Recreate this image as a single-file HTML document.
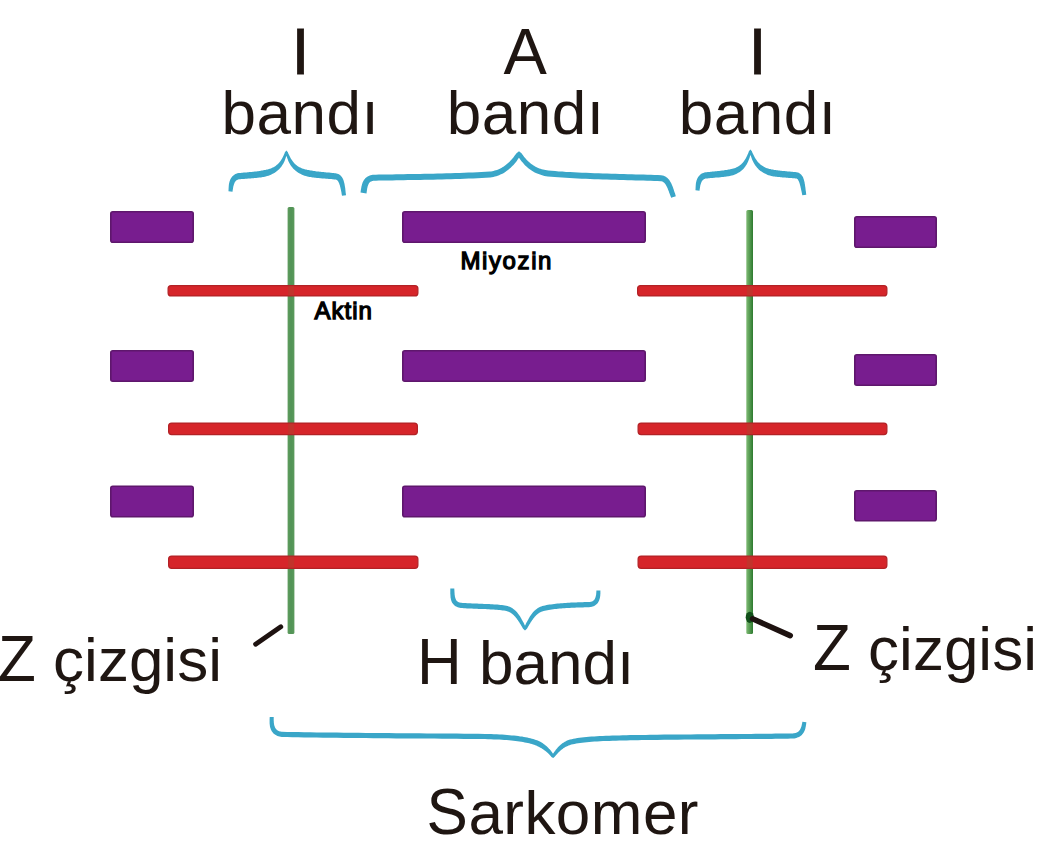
<!DOCTYPE html>
<html>
<head>
<meta charset="utf-8">
<style>
html,body{margin:0;padding:0;background:#fff;}
body{width:1039px;height:859px;overflow:hidden;}
svg{display:block;}
.t{font-family:"Liberation Sans",sans-serif;font-size:62px;fill:#1f1612;}
.b{font-family:"Liberation Sans",sans-serif;font-weight:normal;font-size:24px;fill:#000;stroke:#000;stroke-width:1.3px;}
</style>
</head>
<body>
<svg width="1039" height="859" viewBox="0 0 1039 859">
<rect x="0" y="0" width="1039" height="859" fill="#fff"/>

<!-- top labels -->
<text class="t" x="300.6" y="73.7" text-anchor="middle" style="font-size:65px;stroke:#1f1612;stroke-width:0.8px">I</text>
<text class="t" x="300.4" y="134.3" text-anchor="middle" letter-spacing="0.5">bandı</text>
<text class="t" x="525.1" y="73.7" text-anchor="middle" style="font-size:65px">A</text>
<text class="t" x="525.6" y="134.3" text-anchor="middle" letter-spacing="0.5">bandı</text>
<text class="t" x="757.5" y="73.7" text-anchor="middle" style="font-size:65px;stroke:#1f1612;stroke-width:0.8px">I</text>
<text class="t" x="757.6" y="134.3" text-anchor="middle" letter-spacing="0.5">bandı</text>

<!-- green Z lines -->
<defs>
<linearGradient id="gL" x1="0" x2="1" y1="0" y2="0"><stop offset="0" stop-color="#5f9c5e"/><stop offset="0.5" stop-color="#519356"/><stop offset="1" stop-color="#5b9a5c"/></linearGradient>
<linearGradient id="gR" x1="0" x2="1" y1="0" y2="0"><stop offset="0" stop-color="#80bb75"/><stop offset="0.45" stop-color="#5a9e55"/><stop offset="1" stop-color="#2d7a2f"/></linearGradient>
</defs>
<rect x="287.6" y="207" width="6.8" height="427" rx="1.5" fill="url(#gL)"/>
<rect x="746.3" y="210" width="6.7" height="424" rx="1.5" fill="url(#gR)"/>

<!-- purple myosin -->
<g fill="#781d8f" stroke="#5e176c" stroke-width="1.6">
<rect x="110.8" y="211.8" width="82.4" height="30.4" rx="2"/>
<rect x="402.8" y="211.8" width="242.4" height="30.4" rx="2"/>
<rect x="854.8" y="216.8" width="81.4" height="30.4" rx="2"/>
<rect x="110.8" y="350.8" width="82.4" height="30.4" rx="2"/>
<rect x="402.8" y="350.8" width="242.4" height="30.4" rx="2"/>
<rect x="854.8" y="354.8" width="81.4" height="30.4" rx="2"/>
<rect x="110.8" y="486.3" width="82.4" height="30.4" rx="2"/>
<rect x="402.8" y="486.3" width="242.4" height="30.4" rx="2"/>
<rect x="854.8" y="490.8" width="81.4" height="29.9" rx="2"/>
</g>

<!-- red actin -->
<g fill="#d6252a" stroke="#b22226" stroke-width="1.2" fill-opacity="1">
<rect x="168.1" y="285.6" width="249.8" height="10.3" rx="3"/>
<rect x="637.6" y="285.6" width="249.3" height="10.3" rx="3"/>
<rect x="168.6" y="423.1" width="248.8" height="11.5" rx="3"/>
<rect x="638.1" y="423.1" width="248.8" height="11.5" rx="3"/>
<rect x="168.6" y="556.1" width="249.3" height="12.2" rx="3"/>
<rect x="638.1" y="556.1" width="248.8" height="12.2" rx="3"/>
</g>

<!-- crossings -->
<g fill="#a5482c" fill-opacity="0.4">
<rect x="288.1" y="286" width="6" height="9.5"/>
<rect x="746.8" y="286" width="6" height="9.5"/>
<rect x="288.1" y="423.5" width="6" height="10.7"/>
<rect x="746.8" y="423.5" width="6" height="10.7"/>
<rect x="288.1" y="556.5" width="6" height="11.4"/>
<rect x="746.8" y="556.5" width="6" height="11.4"/>
</g>

<!-- small labels -->
<text class="b" x="314.6" y="318.9" letter-spacing="1.0">Aktin</text>
<text class="b" x="460.5" y="268.6" letter-spacing="1.6">Miyozin</text>

<!-- pointer lines -->
<line x1="280.8" y1="626.8" x2="255.6" y2="644.2" stroke="#1e1210" stroke-width="4.8" stroke-linecap="round"/>
<ellipse cx="749.8" cy="617.3" rx="4.1" ry="5.6" fill="#12501a"/>
<line x1="752.5" y1="618.8" x2="790.2" y2="635.6" stroke="#1e1210" stroke-width="5.6" stroke-linecap="round"/>

<!-- bottom labels -->
<text class="t" transform="translate(-2,681) scale(1,1.035)">Z</text>
<text class="t" x="53.12" y="681">çizgisi</text>
<text class="t" transform="translate(813,669.5) scale(1,1.035)">Z</text>
<text class="t" x="868.12" y="669.5">çizgisi</text>
<text class="t" transform="translate(417,684.4) scale(1,1.035)">H</text>
<text class="t" x="479" y="684.4">bandı</text>
<text class="t" transform="translate(426.6,834.1) scale(1,1.035)">S</text>
<text class="t" x="468.4" y="834.1" letter-spacing="0.45">arkomer</text>

<!-- braces -->
<g fill="#3aa6c8">
<path d="M232.5,191.7 L232.6,191.0 L232.7,190.3 L232.8,189.7 L232.9,189.0 L233.0,188.4 L233.1,187.8 L233.2,187.2 L233.3,186.6 L233.5,186.0 L233.6,185.4 L233.8,184.9 L233.9,184.4 L234.1,183.9 L234.3,183.4 L234.5,183.0 L234.7,182.5 L234.9,182.1 L235.2,181.8 L235.4,181.4 L235.7,181.1 L236.0,180.8 L236.3,180.6 L236.6,180.3 L236.9,180.1 L237.3,179.9 L237.6,179.7 L238.1,179.5 L238.5,179.4 L238.6,179.3 L239.3,179.3 L240.3,179.2 L241.3,179.1 L242.3,179.0 L243.3,178.9 L244.2,178.9 L245.2,178.8 L246.1,178.7 L247.1,178.7 L248.0,178.6 L248.9,178.5 L249.9,178.5 L250.8,178.4 L251.7,178.3 L252.6,178.3 L253.5,178.2 L254.4,178.1 L255.4,178.0 L256.3,177.9 L257.2,177.8 L258.1,177.7 L259.0,177.6 L260.0,177.5 L260.9,177.4 L261.9,177.2 L262.8,177.1 L263.8,176.9 L264.7,176.7 L265.7,176.5 L267.1,176.1 L268.5,175.7 L269.7,175.2 L271.0,174.7 L272.2,174.1 L273.3,173.5 L274.4,172.9 L275.4,172.2 L276.4,171.5 L277.3,170.8 L278.2,170.1 L279.1,169.3 L279.8,168.4 L280.6,167.6 L281.3,166.7 L281.9,165.8 L282.5,164.8 L283.1,163.9 L283.6,162.9 L284.1,161.9 L284.6,160.9 L285.0,159.8 L285.4,158.7 L285.8,157.6 L286.2,156.5 L286.5,155.4 L286.9,154.2 L287.2,153.0 L286.4,152.6 L285.7,153.0 L286.0,154.2 L286.3,155.4 L286.7,156.5 L287.1,157.7 L287.5,158.8 L287.9,159.8 L288.3,160.9 L288.8,161.9 L289.3,162.9 L289.9,163.9 L290.4,164.9 L291.0,165.8 L291.7,166.7 L292.4,167.6 L293.1,168.4 L293.9,169.3 L294.8,170.1 L295.6,170.8 L296.6,171.5 L297.6,172.2 L298.6,172.9 L299.7,173.5 L300.8,174.1 L302.0,174.7 L303.3,175.2 L304.5,175.7 L305.9,176.1 L307.3,176.5 L308.4,176.7 L309.5,176.9 L310.6,177.1 L311.6,177.3 L312.7,177.4 L313.8,177.6 L314.8,177.7 L315.8,177.8 L316.9,177.9 L317.9,178.0 L318.9,178.1 L320.0,178.2 L321.0,178.3 L322.0,178.4 L323.0,178.5 L323.9,178.5 L324.9,178.6 L325.9,178.7 L326.8,178.8 L327.8,178.8 L328.7,178.9 L329.6,179.0 L330.5,179.0 L331.4,179.1 L332.3,179.2 L333.1,179.3 L334.0,179.4 L334.8,179.5 L335.5,179.6 L335.7,179.6 L336.0,179.6 L336.2,179.7 L336.5,179.8 L336.7,179.9 L336.9,180.0 L337.2,180.2 L337.4,180.5 L337.7,180.8 L337.9,181.1 L338.2,181.5 L338.5,181.9 L338.7,182.4 L339.0,183.0 L339.2,183.6 L339.4,184.2 L339.7,184.9 L339.9,185.6 L340.1,186.4 L340.3,187.2 L340.5,188.0 L340.7,188.9 L340.9,189.8 L341.1,190.7 L341.3,191.7 L341.5,192.7 L341.6,193.7 L341.8,194.7 L342.0,195.8 L346.0,195.2 L345.9,194.1 L345.7,193.1 L345.6,192.0 L345.5,191.0 L345.4,190.0 L345.3,189.0 L345.2,188.1 L345.0,187.1 L344.9,186.2 L344.7,185.3 L344.6,184.5 L344.4,183.6 L344.2,182.8 L344.0,182.0 L343.8,181.2 L343.6,180.5 L343.3,179.7 L343.0,179.0 L342.6,178.3 L342.3,177.7 L341.8,177.0 L341.4,176.4 L340.8,175.8 L340.2,175.3 L339.6,174.8 L338.9,174.3 L338.2,174.0 L337.4,173.7 L336.5,173.4 L335.6,173.3 L334.7,173.2 L333.8,173.1 L332.9,173.0 L332.0,172.9 L331.1,172.8 L330.2,172.7 L329.2,172.6 L328.3,172.5 L327.4,172.4 L326.4,172.4 L325.4,172.3 L324.5,172.2 L323.5,172.1 L322.5,172.0 L321.6,171.9 L320.6,171.8 L319.6,171.7 L318.6,171.6 L317.6,171.5 L316.6,171.4 L315.6,171.2 L314.6,171.1 L313.6,170.9 L312.6,170.8 L311.6,170.6 L310.6,170.5 L309.6,170.3 L308.7,170.1 L307.5,169.9 L306.3,169.6 L305.2,169.4 L304.1,169.1 L303.1,168.7 L302.1,168.4 L301.2,168.0 L300.3,167.6 L299.4,167.2 L298.6,166.7 L297.8,166.2 L297.1,165.7 L296.3,165.1 L295.6,164.5 L295.0,163.9 L294.3,163.2 L293.7,162.5 L293.1,161.7 L292.5,161.0 L291.9,160.1 L291.3,159.3 L290.8,158.4 L290.3,157.5 L289.8,156.5 L289.3,155.5 L288.8,154.5 L288.3,153.4 L287.9,152.3 L286.4,150.4 L284.9,152.3 L284.5,153.4 L284.0,154.5 L283.6,155.5 L283.1,156.5 L282.6,157.5 L282.1,158.4 L281.6,159.3 L281.0,160.2 L280.5,161.0 L279.9,161.8 L279.3,162.5 L278.6,163.2 L278.0,163.9 L277.3,164.5 L276.6,165.1 L275.9,165.7 L275.2,166.2 L274.4,166.7 L273.6,167.2 L272.7,167.6 L271.8,168.0 L270.9,168.4 L269.9,168.7 L268.9,169.1 L267.8,169.4 L266.7,169.6 L265.5,169.9 L264.3,170.1 L263.4,170.3 L262.5,170.4 L261.7,170.6 L260.8,170.8 L259.9,170.9 L259.1,171.0 L258.2,171.2 L257.3,171.3 L256.4,171.4 L255.6,171.5 L254.7,171.6 L253.8,171.7 L252.9,171.8 L252.0,171.9 L251.2,172.0 L250.3,172.0 L249.3,172.1 L248.4,172.2 L247.5,172.3 L246.6,172.4 L245.6,172.4 L244.7,172.5 L243.7,172.6 L242.7,172.7 L241.8,172.8 L240.8,172.9 L239.7,173.0 L238.7,173.1 L237.4,173.3 L236.2,173.7 L235.4,174.1 L234.7,174.5 L234.0,175.0 L233.4,175.5 L232.8,176.0 L232.2,176.6 L231.7,177.2 L231.3,177.8 L230.9,178.4 L230.5,179.1 L230.2,179.7 L230.0,180.4 L229.7,181.1 L229.5,181.7 L229.3,182.4 L229.2,183.1 L229.0,183.8 L228.9,184.5 L228.8,185.2 L228.8,185.9 L228.7,186.5 L228.7,187.2 L228.6,187.9 L228.6,188.6 L228.6,189.3 L228.5,190.0 L228.5,190.7 L228.5,191.3 Z"/>
<path d="M366.5,193.4 L366.6,192.7 L366.7,192.0 L366.8,191.3 L366.9,190.6 L367.0,189.9 L367.1,189.2 L367.2,188.6 L367.3,187.9 L367.5,187.3 L367.6,186.7 L367.7,186.2 L367.9,185.7 L368.1,185.2 L368.3,184.7 L368.5,184.2 L368.7,183.8 L368.9,183.5 L369.1,183.1 L369.4,182.8 L369.6,182.5 L369.9,182.2 L370.2,182.0 L370.5,181.8 L370.9,181.6 L371.3,181.4 L371.8,181.2 L372.3,181.0 L372.8,180.9 L373.2,180.8 L376.0,180.7 L379.0,180.6 L382.1,180.6 L385.5,180.5 L388.9,180.4 L392.5,180.4 L396.2,180.3 L400.0,180.3 L403.8,180.2 L407.8,180.1 L411.9,180.1 L416.0,180.0 L420.3,179.9 L424.5,179.8 L428.9,179.7 L433.2,179.7 L437.6,179.6 L442.0,179.4 L446.5,179.3 L450.9,179.2 L455.4,179.1 L459.9,178.9 L464.3,178.8 L468.7,178.6 L473.1,178.4 L477.4,178.2 L481.8,178.0 L486.0,177.7 L490.2,177.5 L491.9,177.3 L493.4,177.0 L494.9,176.6 L496.3,176.2 L497.7,175.7 L499.1,175.2 L500.4,174.6 L501.7,174.0 L503.0,173.4 L504.2,172.7 L505.3,171.9 L506.5,171.1 L507.6,170.3 L508.6,169.5 L509.7,168.6 L510.7,167.7 L511.6,166.8 L512.6,165.8 L513.5,164.9 L514.3,163.9 L515.2,162.9 L516.0,161.9 L516.8,160.9 L517.5,159.8 L518.2,158.8 L518.9,157.8 L519.6,156.8 L520.3,155.7 L519.0,155.7 L517.7,155.7 L518.4,156.7 L519.0,157.7 L519.7,158.7 L520.4,159.7 L521.1,160.7 L521.9,161.7 L522.7,162.6 L523.5,163.6 L524.3,164.5 L525.2,165.4 L526.1,166.3 L527.0,167.1 L528.0,168.0 L529.0,168.8 L530.1,169.6 L531.2,170.3 L532.3,171.1 L533.5,171.7 L534.7,172.4 L535.9,173.0 L537.2,173.6 L538.6,174.1 L540.0,174.6 L541.4,175.1 L542.9,175.5 L544.4,175.9 L546.0,176.2 L547.7,176.5 L551.1,176.8 L554.6,177.1 L558.3,177.3 L562.0,177.6 L565.8,177.8 L569.7,178.1 L573.6,178.3 L577.7,178.5 L581.8,178.7 L585.9,178.8 L590.0,179.0 L594.2,179.2 L598.4,179.3 L602.7,179.5 L606.9,179.6 L611.1,179.7 L615.3,179.8 L619.5,180.0 L623.6,180.1 L627.7,180.2 L631.7,180.3 L635.7,180.4 L639.6,180.5 L643.4,180.6 L647.1,180.7 L650.7,180.8 L654.2,181.0 L657.6,181.1 L660.8,181.2 L661.1,181.2 L661.6,181.3 L662.0,181.4 L662.4,181.6 L662.8,181.8 L663.1,182.0 L663.5,182.2 L663.8,182.5 L664.2,182.8 L664.6,183.2 L664.9,183.6 L665.3,184.1 L665.6,184.6 L666.0,185.2 L666.3,185.8 L666.7,186.4 L667.0,187.1 L667.3,187.8 L667.7,188.6 L668.0,189.4 L668.3,190.2 L668.7,191.1 L669.0,192.0 L669.3,192.9 L669.7,193.8 L670.0,194.8 L670.4,195.8 L670.8,196.8 L671.1,197.8 L675.9,196.2 L675.5,195.2 L675.2,194.1 L674.9,193.1 L674.5,192.2 L674.2,191.2 L673.9,190.2 L673.6,189.3 L673.3,188.4 L673.0,187.5 L672.6,186.6 L672.3,185.7 L671.9,184.9 L671.6,184.0 L671.2,183.2 L670.8,182.5 L670.3,181.7 L669.9,181.0 L669.4,180.2 L668.9,179.6 L668.3,178.9 L667.7,178.3 L667.1,177.7 L666.4,177.2 L665.7,176.7 L664.9,176.3 L664.0,175.9 L663.2,175.6 L662.3,175.4 L661.2,175.2 L657.8,175.1 L654.4,175.0 L650.9,174.8 L647.3,174.7 L643.5,174.6 L639.7,174.5 L635.8,174.4 L631.9,174.3 L627.8,174.2 L623.8,174.1 L619.6,174.0 L615.5,173.8 L611.3,173.7 L607.1,173.6 L602.9,173.5 L598.7,173.3 L594.5,173.2 L590.3,173.0 L586.1,172.8 L582.0,172.7 L578.0,172.5 L574.0,172.3 L570.0,172.1 L566.1,171.9 L562.4,171.6 L558.7,171.4 L555.1,171.1 L551.6,170.8 L548.3,170.5 L547.0,170.3 L545.6,170.1 L544.2,169.8 L543.0,169.5 L541.7,169.2 L540.5,168.8 L539.3,168.4 L538.2,167.9 L537.1,167.4 L536.1,166.9 L535.1,166.4 L534.1,165.8 L533.1,165.2 L532.2,164.6 L531.3,163.9 L530.4,163.2 L529.6,162.5 L528.7,161.8 L527.9,161.0 L527.1,160.2 L526.4,159.4 L525.6,158.6 L524.9,157.7 L524.2,156.9 L523.5,156.0 L522.8,155.1 L522.2,154.2 L521.5,153.2 L519.0,151.3 L516.5,153.2 L515.8,154.2 L515.1,155.1 L514.4,156.1 L513.7,157.0 L513.0,157.9 L512.2,158.8 L511.4,159.7 L510.6,160.6 L509.8,161.4 L509.0,162.2 L508.1,163.1 L507.2,163.8 L506.3,164.6 L505.4,165.3 L504.4,166.0 L503.4,166.7 L502.4,167.3 L501.4,167.9 L500.3,168.5 L499.3,169.0 L498.2,169.5 L497.0,169.9 L495.9,170.3 L494.7,170.6 L493.5,170.9 L492.3,171.2 L491.0,171.4 L489.8,171.5 L485.7,171.8 L481.4,172.0 L477.2,172.2 L472.8,172.4 L468.5,172.6 L464.1,172.8 L459.6,172.9 L455.2,173.1 L450.8,173.2 L446.3,173.3 L441.9,173.4 L437.5,173.6 L433.1,173.7 L428.7,173.7 L424.4,173.8 L420.1,173.9 L415.9,174.0 L411.8,174.1 L407.7,174.1 L403.7,174.2 L399.9,174.3 L396.1,174.3 L392.4,174.4 L388.8,174.4 L385.3,174.5 L382.0,174.6 L378.8,174.6 L375.8,174.7 L372.8,174.8 L371.6,175.0 L370.6,175.2 L369.7,175.5 L368.9,175.9 L368.1,176.3 L367.3,176.7 L366.6,177.2 L365.9,177.7 L365.3,178.3 L364.8,178.9 L364.3,179.6 L363.8,180.3 L363.4,180.9 L363.1,181.6 L362.7,182.3 L362.5,183.1 L362.2,183.8 L362.0,184.5 L361.8,185.3 L361.6,186.0 L361.4,186.7 L361.3,187.5 L361.2,188.2 L361.0,188.9 L360.9,189.7 L360.8,190.4 L360.7,191.1 L360.6,191.9 L360.5,192.6 Z"/>
<path d="M699.5,190.7 L699.6,190.0 L699.7,189.3 L699.8,188.7 L699.9,188.0 L700.0,187.4 L700.1,186.8 L700.2,186.2 L700.3,185.6 L700.4,185.0 L700.6,184.4 L700.8,183.9 L700.9,183.4 L701.1,182.9 L701.3,182.4 L701.5,182.0 L701.7,181.6 L701.9,181.2 L702.2,180.8 L702.4,180.5 L702.7,180.2 L703.0,179.9 L703.2,179.7 L703.6,179.5 L703.9,179.3 L704.2,179.1 L704.6,178.9 L705.0,178.7 L705.4,178.6 L705.6,178.5 L706.4,178.5 L707.4,178.4 L708.3,178.3 L709.3,178.2 L710.2,178.1 L711.2,178.0 L712.1,177.9 L713.0,177.9 L713.9,177.8 L714.8,177.7 L715.6,177.6 L716.5,177.6 L717.4,177.5 L718.2,177.4 L719.1,177.4 L720.0,177.3 L720.8,177.2 L721.7,177.1 L722.6,177.0 L723.4,176.9 L724.3,176.8 L725.2,176.7 L726.1,176.6 L727.0,176.5 L727.9,176.3 L728.8,176.2 L729.8,176.0 L730.7,175.8 L731.8,175.6 L733.1,175.2 L734.3,174.7 L735.5,174.2 L736.7,173.7 L737.8,173.1 L738.8,172.5 L739.8,171.9 L740.7,171.2 L741.6,170.5 L742.5,169.8 L743.3,169.0 L744.0,168.2 L744.7,167.3 L745.3,166.5 L745.9,165.6 L746.5,164.7 L747.0,163.8 L747.5,162.8 L748.0,161.8 L748.4,160.8 L748.8,159.8 L749.2,158.8 L749.6,157.7 L749.9,156.6 L750.3,155.5 L750.6,154.4 L750.9,153.2 L751.2,152.0 L750.4,151.6 L749.7,152.0 L750.0,153.2 L750.3,154.4 L750.7,155.6 L751.1,156.7 L751.5,157.8 L751.9,158.9 L752.3,160.0 L752.8,161.0 L753.3,162.0 L753.8,163.0 L754.4,164.0 L755.0,165.0 L755.7,165.9 L756.4,166.8 L757.1,167.7 L757.9,168.5 L758.7,169.4 L759.6,170.2 L760.5,170.9 L761.5,171.6 L762.6,172.3 L763.7,173.0 L764.8,173.6 L766.0,174.1 L767.2,174.7 L768.5,175.2 L769.9,175.6 L771.3,176.0 L772.5,176.2 L773.6,176.4 L774.6,176.5 L775.6,176.7 L776.7,176.8 L777.7,176.9 L778.7,177.0 L779.7,177.1 L780.6,177.2 L781.6,177.3 L782.5,177.4 L783.5,177.5 L784.4,177.5 L785.3,177.6 L786.2,177.7 L787.0,177.7 L787.9,177.8 L788.7,177.9 L789.5,177.9 L790.3,178.0 L791.1,178.0 L791.9,178.1 L792.6,178.2 L793.3,178.2 L794.0,178.3 L794.7,178.3 L795.3,178.4 L795.9,178.5 L796.3,178.5 L796.3,178.5 L796.5,178.6 L796.7,178.6 L796.9,178.8 L797.2,178.9 L797.4,179.1 L797.6,179.3 L797.9,179.6 L798.1,180.0 L798.3,180.4 L798.6,180.8 L798.8,181.3 L799.1,181.9 L799.3,182.4 L799.5,183.1 L799.7,183.8 L799.9,184.5 L800.1,185.2 L800.3,186.0 L800.5,186.8 L800.7,187.7 L800.9,188.6 L801.1,189.5 L801.3,190.4 L801.5,191.3 L801.7,192.3 L801.9,193.3 L802.1,194.3 L802.3,195.3 L806.3,194.7 L806.1,193.6 L806.0,192.6 L805.9,191.6 L805.7,190.6 L805.6,189.7 L805.5,188.7 L805.4,187.8 L805.3,186.9 L805.1,186.0 L805.0,185.1 L804.9,184.2 L804.7,183.4 L804.6,182.6 L804.4,181.8 L804.2,181.0 L804.0,180.2 L803.8,179.5 L803.5,178.7 L803.3,178.0 L803.0,177.3 L802.6,176.6 L802.2,176.0 L801.8,175.4 L801.3,174.8 L800.7,174.2 L800.1,173.7 L799.4,173.2 L798.7,172.8 L797.7,172.5 L796.8,172.3 L796.1,172.2 L795.4,172.1 L794.7,172.1 L794.0,172.0 L793.2,171.9 L792.4,171.8 L791.7,171.7 L790.9,171.7 L790.1,171.6 L789.2,171.5 L788.4,171.5 L787.6,171.4 L786.7,171.3 L785.8,171.2 L784.9,171.1 L784.0,171.1 L783.1,171.0 L782.2,170.9 L781.3,170.8 L780.4,170.7 L779.4,170.6 L778.4,170.4 L777.5,170.3 L776.5,170.2 L775.5,170.0 L774.5,169.9 L773.6,169.7 L772.7,169.6 L771.5,169.4 L770.3,169.1 L769.2,168.9 L768.1,168.6 L767.1,168.2 L766.1,167.9 L765.2,167.5 L764.3,167.0 L763.5,166.6 L762.7,166.1 L761.9,165.6 L761.1,165.0 L760.4,164.4 L759.7,163.8 L759.0,163.1 L758.3,162.4 L757.7,161.7 L757.1,160.9 L756.5,160.1 L755.9,159.3 L755.4,158.4 L754.8,157.5 L754.3,156.5 L753.8,155.6 L753.3,154.5 L752.8,153.5 L752.3,152.4 L751.9,151.3 L750.4,149.4 L748.9,151.3 L748.5,152.4 L748.1,153.5 L747.6,154.6 L747.2,155.6 L746.7,156.5 L746.2,157.5 L745.7,158.4 L745.2,159.2 L744.7,160.1 L744.2,160.8 L743.7,161.6 L743.1,162.3 L742.5,163.0 L741.9,163.6 L741.3,164.2 L740.6,164.8 L740.0,165.3 L739.3,165.8 L738.5,166.3 L737.8,166.7 L737.0,167.1 L736.2,167.5 L735.3,167.9 L734.4,168.2 L733.4,168.5 L732.4,168.7 L731.3,169.0 L730.2,169.2 L729.4,169.4 L728.6,169.5 L727.7,169.7 L726.8,169.9 L726.0,170.0 L725.1,170.1 L724.3,170.3 L723.5,170.4 L722.7,170.5 L721.8,170.6 L721.0,170.7 L720.2,170.8 L719.3,170.9 L718.5,171.0 L717.7,171.1 L716.8,171.2 L715.9,171.2 L715.1,171.3 L714.2,171.4 L713.3,171.5 L712.4,171.6 L711.5,171.7 L710.6,171.8 L709.6,171.9 L708.7,172.0 L707.7,172.1 L706.7,172.2 L705.7,172.3 L704.4,172.5 L703.3,172.9 L702.5,173.2 L701.7,173.6 L701.1,174.1 L700.4,174.6 L699.8,175.1 L699.3,175.7 L698.8,176.2 L698.3,176.8 L697.9,177.5 L697.6,178.1 L697.2,178.8 L697.0,179.4 L696.7,180.1 L696.5,180.8 L696.3,181.4 L696.2,182.1 L696.0,182.8 L695.9,183.5 L695.8,184.2 L695.8,184.9 L695.7,185.5 L695.7,186.2 L695.6,186.9 L695.6,187.6 L695.6,188.3 L695.5,189.0 L695.5,189.7 L695.5,190.3 Z"/>
<path d="M450.3,588.6 L450.3,589.4 L450.3,590.3 L450.3,591.1 L450.3,592.0 L450.3,592.8 L450.3,593.7 L450.4,594.5 L450.4,595.3 L450.5,596.1 L450.5,596.9 L450.6,597.7 L450.8,598.4 L450.9,599.2 L451.1,600.0 L451.3,600.7 L451.6,601.5 L451.9,602.2 L452.3,602.9 L452.8,603.6 L453.3,604.2 L453.9,604.8 L454.5,605.4 L455.2,605.9 L456.0,606.4 L456.8,606.8 L457.7,607.2 L458.6,607.5 L459.6,607.8 L460.7,608.0 L462.3,608.1 L463.8,608.2 L465.4,608.3 L467.0,608.4 L468.6,608.5 L470.2,608.5 L471.9,608.6 L473.6,608.7 L475.3,608.7 L477.0,608.8 L478.7,608.9 L480.4,608.9 L482.1,609.0 L483.8,609.1 L485.5,609.1 L487.2,609.2 L488.9,609.3 L490.5,609.4 L492.1,609.5 L493.8,609.6 L495.3,609.7 L496.9,609.8 L498.4,610.0 L499.9,610.1 L501.3,610.3 L502.7,610.4 L504.0,610.6 L505.3,610.8 L506.4,611.0 L507.1,611.2 L507.8,611.4 L508.6,611.7 L509.3,612.0 L510.0,612.4 L510.7,612.8 L511.3,613.2 L512.0,613.7 L512.6,614.2 L513.2,614.7 L513.8,615.3 L514.4,615.9 L515.0,616.5 L515.6,617.2 L516.1,617.9 L516.7,618.6 L517.2,619.4 L517.8,620.1 L518.3,620.9 L518.9,621.8 L519.4,622.6 L519.9,623.4 L520.5,624.3 L521.0,625.2 L521.5,626.1 L522.1,627.0 L522.6,627.9 L523.1,628.8 L525.0,630.5 L526.9,628.8 L527.4,627.9 L527.9,627.0 L528.5,626.1 L529.0,625.2 L529.5,624.3 L530.1,623.4 L530.6,622.6 L531.1,621.8 L531.7,620.9 L532.2,620.1 L532.8,619.4 L533.3,618.6 L533.9,617.9 L534.4,617.2 L535.0,616.5 L535.6,615.9 L536.2,615.3 L536.8,614.7 L537.4,614.2 L538.0,613.7 L538.7,613.2 L539.3,612.8 L540.0,612.4 L540.7,612.0 L541.4,611.7 L542.2,611.4 L542.9,611.2 L543.7,611.0 L544.8,610.7 L546.1,610.5 L547.4,610.2 L548.8,610.0 L550.2,609.7 L551.7,609.5 L553.2,609.3 L554.8,609.1 L556.3,608.9 L557.9,608.8 L559.6,608.6 L561.2,608.5 L562.9,608.3 L564.6,608.2 L566.3,608.1 L568.0,608.0 L569.7,607.9 L571.4,607.8 L573.1,607.7 L574.8,607.7 L576.4,607.6 L578.1,607.5 L579.8,607.5 L581.4,607.4 L583.0,607.4 L584.6,607.3 L586.1,607.3 L587.6,607.2 L589.1,607.2 L590.1,607.1 L591.0,607.0 L591.8,606.8 L592.7,606.5 L593.5,606.2 L594.2,605.9 L594.9,605.5 L595.6,605.0 L596.2,604.6 L596.8,604.0 L597.3,603.5 L597.8,602.9 L598.2,602.3 L598.6,601.6 L598.9,601.0 L599.2,600.3 L599.4,599.6 L599.6,598.9 L599.8,598.2 L600.0,597.4 L600.1,596.7 L600.2,596.0 L600.3,595.2 L600.3,594.4 L600.4,593.7 L600.4,592.9 L600.4,592.1 L600.4,591.3 L600.4,590.5 L596.4,590.5 L596.4,591.2 L596.3,592.0 L596.3,592.7 L596.2,593.4 L596.2,594.0 L596.1,594.7 L596.0,595.3 L595.8,595.9 L595.7,596.5 L595.6,597.1 L595.4,597.6 L595.2,598.1 L595.0,598.5 L594.8,598.9 L594.6,599.3 L594.3,599.7 L594.1,600.0 L593.8,600.3 L593.5,600.6 L593.2,600.8 L592.8,601.0 L592.5,601.2 L592.1,601.4 L591.7,601.6 L591.2,601.7 L590.7,601.8 L590.1,601.9 L589.5,602.0 L588.9,602.0 L587.5,602.0 L585.9,602.1 L584.4,602.1 L582.8,602.2 L581.2,602.2 L579.6,602.3 L577.9,602.3 L576.2,602.4 L574.5,602.5 L572.8,602.6 L571.1,602.6 L569.4,602.7 L567.7,602.8 L565.9,602.9 L564.2,603.0 L562.5,603.2 L560.8,603.3 L559.1,603.4 L557.4,603.6 L555.8,603.8 L554.2,604.0 L552.6,604.2 L551.0,604.4 L549.5,604.6 L548.0,604.8 L546.5,605.1 L545.1,605.4 L543.7,605.7 L542.3,606.0 L541.3,606.4 L540.3,606.8 L539.3,607.2 L538.4,607.7 L537.5,608.3 L536.7,608.9 L535.9,609.5 L535.1,610.2 L534.4,610.8 L533.7,611.6 L533.0,612.3 L532.4,613.1 L531.7,613.9 L531.1,614.7 L530.6,615.5 L530.0,616.3 L529.5,617.2 L529.0,618.1 L528.5,619.0 L528.0,619.9 L527.5,620.8 L527.0,621.7 L526.5,622.6 L526.0,623.6 L525.6,624.5 L525.1,625.4 L524.6,626.4 L524.2,627.3 L525.0,627.5 L525.8,627.3 L525.4,626.4 L524.9,625.4 L524.4,624.5 L524.0,623.6 L523.5,622.6 L523.0,621.7 L522.5,620.8 L522.0,619.9 L521.5,619.0 L521.0,618.1 L520.5,617.2 L520.0,616.3 L519.4,615.5 L518.9,614.7 L518.3,613.9 L517.6,613.1 L517.0,612.3 L516.3,611.6 L515.6,610.8 L514.9,610.2 L514.1,609.5 L513.3,608.9 L512.5,608.3 L511.6,607.7 L510.7,607.2 L509.7,606.8 L508.7,606.4 L507.6,606.0 L506.2,605.7 L504.8,605.5 L503.4,605.3 L501.9,605.1 L500.4,604.9 L498.9,604.8 L497.3,604.6 L495.7,604.5 L494.1,604.4 L492.5,604.3 L490.8,604.2 L489.1,604.1 L487.4,604.0 L485.7,603.9 L484.0,603.9 L482.3,603.8 L480.6,603.7 L478.9,603.7 L477.1,603.6 L475.4,603.5 L473.8,603.5 L472.1,603.4 L470.4,603.3 L468.8,603.3 L467.2,603.2 L465.7,603.1 L464.1,603.0 L462.7,602.9 L461.3,602.8 L460.6,602.7 L460.0,602.6 L459.3,602.4 L458.8,602.2 L458.3,602.0 L457.9,601.8 L457.5,601.5 L457.2,601.3 L456.9,601.0 L456.6,600.7 L456.3,600.3 L456.1,600.0 L455.9,599.6 L455.7,599.1 L455.5,598.6 L455.3,598.1 L455.2,597.5 L455.0,596.9 L454.9,596.3 L454.8,595.6 L454.7,594.9 L454.6,594.2 L454.6,593.4 L454.5,592.7 L454.5,591.9 L454.4,591.0 L454.4,590.2 L454.3,589.3 L454.3,588.4 Z"/>
<path d="M269.7,716.9 L269.7,717.9 L269.6,718.8 L269.6,719.7 L269.6,720.6 L269.6,721.5 L269.6,722.4 L269.6,723.3 L269.7,724.2 L269.8,725.0 L269.9,725.9 L270.0,726.7 L270.2,727.5 L270.5,728.3 L270.7,729.1 L271.1,729.9 L271.4,730.6 L271.9,731.4 L272.4,732.1 L272.9,732.7 L273.5,733.4 L274.2,734.0 L274.9,734.5 L275.7,735.0 L276.6,735.5 L277.5,735.9 L278.4,736.2 L279.5,736.5 L280.5,736.8 L281.9,737.0 L287.1,737.1 L292.5,737.2 L298.1,737.3 L304.0,737.4 L310.2,737.5 L316.6,737.6 L323.1,737.7 L329.9,737.8 L336.8,737.8 L343.9,737.9 L351.1,738.0 L358.4,738.0 L365.8,738.1 L373.3,738.2 L380.9,738.2 L388.5,738.3 L396.2,738.4 L403.9,738.4 L411.6,738.5 L419.2,738.5 L426.9,738.6 L434.5,738.6 L442.0,738.7 L449.5,738.8 L456.8,738.8 L464.1,738.9 L471.2,739.0 L478.2,739.0 L485.0,739.1 L488.0,739.2 L490.9,739.3 L493.8,739.4 L496.6,739.5 L499.2,739.6 L501.8,739.8 L504.3,740.0 L506.7,740.1 L509.1,740.3 L511.3,740.5 L513.5,740.8 L515.5,741.0 L517.5,741.2 L519.4,741.5 L521.3,741.8 L523.0,742.1 L524.7,742.4 L526.3,742.7 L527.8,743.0 L529.2,743.3 L530.6,743.7 L531.9,744.0 L533.1,744.4 L534.2,744.8 L535.2,745.2 L536.2,745.6 L537.1,746.0 L538.0,746.4 L538.7,746.8 L539.3,747.1 L539.9,747.4 L540.5,747.7 L541.0,748.0 L541.6,748.3 L542.1,748.7 L542.6,749.0 L543.1,749.3 L543.6,749.7 L544.1,750.0 L544.6,750.4 L545.1,750.7 L545.5,751.1 L546.0,751.4 L546.4,751.8 L546.9,752.2 L547.3,752.5 L547.7,752.9 L548.1,753.3 L548.5,753.7 L548.9,754.1 L549.3,754.5 L549.7,754.9 L550.0,755.3 L550.4,755.7 L550.7,756.1 L551.1,756.5 L551.4,756.9 L553.2,758.0 L554.7,756.8 L555.1,756.3 L555.5,755.8 L556.0,755.3 L556.4,754.7 L556.9,754.2 L557.3,753.7 L557.8,753.2 L558.2,752.8 L558.7,752.3 L559.1,751.8 L559.6,751.4 L560.1,750.9 L560.6,750.5 L561.0,750.1 L561.5,749.7 L562.1,749.3 L562.6,748.9 L563.1,748.5 L563.6,748.1 L564.2,747.8 L564.7,747.4 L565.3,747.1 L565.9,746.8 L566.5,746.5 L567.1,746.2 L567.7,745.9 L568.4,745.6 L568.9,745.4 L570.1,745.0 L571.4,744.6 L572.9,744.3 L574.5,743.9 L576.2,743.6 L578.1,743.3 L580.1,743.0 L582.2,742.7 L584.4,742.4 L586.8,742.2 L589.2,742.0 L591.8,741.8 L594.4,741.6 L597.2,741.4 L600.1,741.3 L603.1,741.1 L606.2,741.0 L609.3,740.9 L612.6,740.8 L616.0,740.7 L619.4,740.6 L623.0,740.5 L626.6,740.4 L630.3,740.3 L634.1,740.3 L638.0,740.2 L641.9,740.1 L645.9,740.1 L650.0,740.0 L657.2,739.9 L664.2,739.8 L671.1,739.8 L677.8,739.7 L684.4,739.6 L690.8,739.6 L697.1,739.5 L703.2,739.5 L709.2,739.4 L715.0,739.4 L720.7,739.3 L726.1,739.3 L731.5,739.2 L736.6,739.2 L741.6,739.1 L746.4,739.1 L751.1,739.1 L755.6,739.0 L759.9,739.0 L764.0,738.9 L768.0,738.9 L771.7,738.9 L775.3,738.8 L778.8,738.8 L782.0,738.8 L785.0,738.7 L787.9,738.7 L790.6,738.6 L793.1,738.6 L794.4,738.4 L795.4,738.2 L796.4,738.0 L797.3,737.6 L798.2,737.3 L799.0,736.9 L799.8,736.4 L800.5,736.0 L801.2,735.4 L801.8,734.9 L802.3,734.3 L802.8,733.7 L803.3,733.0 L803.7,732.4 L804.1,731.7 L804.4,731.0 L804.7,730.4 L805.0,729.7 L805.2,729.0 L805.4,728.3 L805.5,727.6 L805.7,726.9 L805.8,726.2 L805.9,725.6 L806.1,724.9 L806.1,724.2 L806.2,723.6 L806.3,722.9 L806.4,722.3 L802.4,721.7 L802.3,722.3 L802.2,722.9 L802.1,723.5 L801.9,724.2 L801.8,724.8 L801.7,725.3 L801.5,725.9 L801.4,726.5 L801.2,727.0 L801.0,727.6 L800.8,728.1 L800.6,728.6 L800.3,729.0 L800.1,729.5 L799.8,729.9 L799.5,730.3 L799.2,730.7 L798.9,731.0 L798.5,731.4 L798.1,731.7 L797.7,731.9 L797.3,732.2 L796.8,732.5 L796.2,732.7 L795.6,732.9 L795.0,733.1 L794.3,733.2 L793.6,733.3 L792.9,733.4 L790.5,733.4 L787.8,733.5 L785.0,733.5 L781.9,733.6 L778.7,733.6 L775.3,733.6 L771.7,733.7 L767.9,733.7 L764.0,733.7 L759.8,733.8 L755.5,733.8 L751.1,733.9 L746.4,733.9 L741.6,733.9 L736.6,734.0 L731.4,734.0 L726.1,734.1 L720.6,734.1 L715.0,734.2 L709.2,734.2 L703.2,734.3 L697.1,734.3 L690.8,734.4 L684.4,734.4 L677.8,734.5 L671.0,734.6 L664.2,734.6 L657.1,734.7 L650.0,734.8 L645.9,734.9 L641.8,734.9 L637.9,735.0 L634.0,735.1 L630.2,735.1 L626.5,735.2 L622.8,735.3 L619.3,735.4 L615.8,735.5 L612.4,735.6 L609.1,735.7 L605.9,735.8 L602.8,735.9 L599.8,736.1 L596.9,736.2 L594.1,736.4 L591.4,736.6 L588.8,736.8 L586.3,737.0 L583.9,737.3 L581.6,737.5 L579.4,737.8 L577.3,738.1 L575.3,738.4 L573.4,738.8 L571.7,739.2 L570.0,739.6 L568.5,740.1 L567.1,740.6 L566.2,741.0 L565.5,741.4 L564.8,741.8 L564.1,742.2 L563.4,742.7 L562.7,743.1 L562.1,743.6 L561.5,744.0 L560.9,744.5 L560.3,745.0 L559.8,745.5 L559.2,746.0 L558.7,746.5 L558.2,747.1 L557.7,747.6 L557.2,748.2 L556.7,748.7 L556.3,749.3 L555.8,749.8 L555.4,750.4 L555.0,750.9 L554.6,751.5 L554.2,752.1 L553.7,752.7 L553.3,753.3 L553.0,753.8 L552.6,754.4 L552.2,755.0 L552.8,755.0 L554.0,755.2 L553.7,754.7 L553.3,754.2 L553.0,753.7 L552.7,753.2 L552.3,752.7 L552.0,752.2 L551.6,751.7 L551.3,751.2 L550.9,750.8 L550.5,750.3 L550.1,749.8 L549.7,749.3 L549.2,748.9 L548.8,748.4 L548.4,747.9 L547.9,747.5 L547.4,747.0 L546.9,746.6 L546.4,746.1 L545.9,745.7 L545.4,745.2 L544.9,744.8 L544.3,744.4 L543.7,743.9 L543.1,743.5 L542.5,743.1 L541.9,742.7 L541.3,742.2 L540.3,741.7 L539.3,741.2 L538.2,740.8 L537.1,740.3 L535.9,739.9 L534.6,739.5 L533.3,739.0 L531.9,738.7 L530.4,738.3 L528.9,737.9 L527.3,737.6 L525.6,737.3 L523.9,736.9 L522.1,736.6 L520.2,736.4 L518.2,736.1 L516.2,735.8 L514.0,735.6 L511.8,735.4 L509.5,735.2 L507.1,735.0 L504.7,734.8 L502.1,734.6 L499.5,734.5 L496.8,734.3 L494.0,734.2 L491.1,734.1 L488.1,734.0 L485.0,733.9 L478.2,733.8 L471.2,733.8 L464.1,733.7 L456.9,733.6 L449.5,733.6 L442.1,733.5 L434.5,733.4 L426.9,733.4 L419.3,733.3 L411.6,733.3 L403.9,733.2 L396.2,733.2 L388.6,733.1 L380.9,733.0 L373.4,733.0 L365.9,732.9 L358.4,732.8 L351.1,732.8 L343.9,732.7 L336.9,732.6 L329.9,732.6 L323.2,732.5 L316.6,732.4 L310.3,732.3 L304.1,732.2 L298.2,732.1 L292.6,732.0 L287.2,731.9 L282.1,731.8 L281.5,731.7 L280.7,731.5 L279.9,731.4 L279.3,731.2 L278.7,730.9 L278.1,730.7 L277.6,730.4 L277.2,730.1 L276.8,729.8 L276.4,729.5 L276.1,729.1 L275.8,728.7 L275.5,728.3 L275.2,727.8 L275.0,727.4 L274.8,726.8 L274.6,726.3 L274.4,725.7 L274.2,725.0 L274.1,724.4 L274.0,723.7 L273.9,722.9 L273.8,722.2 L273.8,721.4 L273.7,720.6 L273.7,719.7 L273.7,718.9 L273.7,718.0 L273.7,717.1 Z"/>
</g>
</svg>
</body>
</html>
